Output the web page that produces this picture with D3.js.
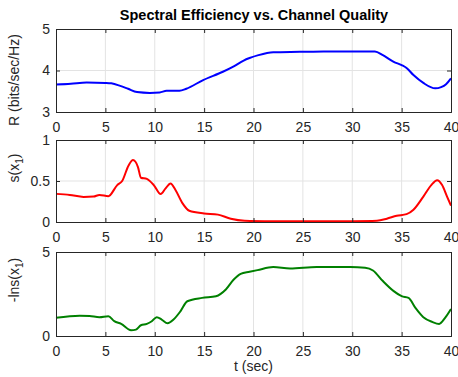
<!DOCTYPE html>
<html>
<head>
<meta charset="utf-8">
<script src="https://cdn.jsdelivr.net/npm/d3@7"></script>
<style>
  html, body { margin: 0; padding: 0; background: #fff; }
  svg { display: block; font-family: "Liberation Sans", Arial, Helvetica, sans-serif; }
</style>
</head>
<body>
<svg id="chart" width="458" height="377"></svg>
<script>
// ---- data ----
const title = "Spectral Efficiency vs. Channel Quality";
const xLabel = "t (sec)";
const xTicks = [0, 5, 10, 15, 20, 25, 30, 35, 40];

const tR = [0, 1.5, 3.1, 5.0, 5.6, 6.5, 7.3, 8.2, 9.5, 10.5, 11.2, 12.5, 13.2, 14.9, 16.9, 18.0, 19.0, 19.6, 20.5, 22.0, 24.7, 27.1, 30.0, 32.3, 33.1, 34.2, 35.0, 35.5, 36.2, 37.2, 38.4, 39.0, 39.5, 40];
const R  = [3.66, 3.68, 3.71, 3.70, 3.69, 3.63, 3.56, 3.48, 3.46, 3.47, 3.51, 3.51, 3.56, 3.77, 3.97, 4.10, 4.24, 4.30, 4.37, 4.44, 4.45, 4.46, 4.46, 4.46, 4.37, 4.21, 4.13, 4.06, 3.89, 3.70, 3.57, 3.60, 3.67, 3.81];

const tS = [0, 1.4, 2.8, 3.8, 4.4, 5.3, 6.2, 6.7, 7.35, 7.8, 8.3, 8.6, 9.2, 9.9, 10.6, 11.1, 11.6, 12.1, 12.8, 13.5, 15.0, 16.4, 17.7, 19.1, 22.0, 26.0, 30.0, 32.5, 33.5, 34.5, 35.5, 36.2, 37.2, 38.0, 38.6, 39.1, 39.6, 40];
const S  = [0.343, 0.33, 0.306, 0.31, 0.33, 0.315, 0.45, 0.50, 0.69, 0.755, 0.67, 0.54, 0.525, 0.45, 0.34, 0.41, 0.47, 0.39, 0.23, 0.137, 0.105, 0.09, 0.04, 0.016, 0.01, 0.008, 0.01, 0.015, 0.04, 0.076, 0.096, 0.15, 0.31, 0.45, 0.51, 0.45, 0.31, 0.20];

const tL = [0, 2.4, 3.4, 4.4, 5.3, 5.9, 6.6, 7.6, 8.1, 8.6, 9.2, 9.7, 10.2, 10.7, 11.3, 11.9, 12.6, 13.3, 14.8, 16.2, 17.2, 18.0, 18.7, 19.6, 20.4, 22.0, 23.7, 26.4, 29.8, 31.3, 32.1, 33.1, 34.2, 35.0, 35.7, 36.4, 37.2, 38.1, 38.8, 39.4, 40];
const L  = [1.09, 1.21, 1.19, 1.12, 1.18, 0.88, 0.72, 0.34, 0.38, 0.64, 0.72, 0.88, 1.12, 0.98, 0.76, 0.98, 1.47, 2.07, 2.27, 2.37, 2.77, 3.36, 3.70, 3.82, 3.92, 4.10, 4.02, 4.10, 4.10, 4.06, 3.90, 3.27, 2.67, 2.37, 2.27, 1.67, 1.12, 0.84, 0.72, 1.08, 1.61];

const panels = [
  { t: tR, v: R, domain: [3, 5], yTicks: [3, 4, 5], color: "#0000ff", top: 29, bottom: 112, label: ["R (bits/sec/Hz)"], labelY: 80 },
  { t: tS, v: S, domain: [0, 1], yTicks: [0, 0.5, 1], color: "#ff0000", top: 140, bottom: 222, label: ["s(x", "1", ")"], labelY: 168 },
  { t: tL, v: L, domain: [0, 5], yTicks: [0, 5], color: "#008000", top: 252, bottom: 336, label: ["-lns(x", "1", ")"], labelY: 280 }
];

// ---- drawing ----
const svg = d3.select("#chart");
const left = 56, right = 451;
const axisColor = "#262626", gridColor = "#e3e3e3";
const x = d3.scaleLinear().domain([0, 40]).range([left, right]);

svg.append("text")
  .attr("x", (left + right) / 2 + 0.5).attr("y", 19.5)
  .attr("text-anchor", "middle")
  .attr("font-weight", "bold").attr("font-size", 14.5)
  .attr("fill", "#000")
  .text(title);

panels.forEach(p => {
  const y = d3.scaleLinear().domain(p.domain).range([p.bottom, p.top]);
  const g = svg.append("g");

  // grid
  g.selectAll(".vg").data(xTicks.slice(1, -1)).enter().append("line")
    .attr("x1", d => x(d)).attr("x2", d => x(d))
    .attr("y1", p.top).attr("y2", p.bottom)
    .attr("stroke", gridColor).attr("stroke-width", 1);
  g.selectAll(".hg").data(p.yTicks.slice(1, -1)).enter().append("line")
    .attr("x1", left).attr("x2", right)
    .attr("y1", d => y(d)).attr("y2", d => y(d))
    .attr("stroke", gridColor).attr("stroke-width", 1);

  // line
  const line = d3.line().x((d, i) => x(p.t[i])).y(d => y(d)).curve(d3.curveMonotoneX);
  g.append("path").datum(p.v)
    .attr("d", line)
    .attr("fill", "none")
    .attr("stroke", p.color)
    .attr("stroke-width", 2)
    .attr("stroke-linejoin", "round");

  // axes (MATLAB style, inward ticks, box)
  const axB = d3.axisBottom(x).tickValues(xTicks).tickSize(-4).tickPadding(10).tickFormat(d3.format("d"));
  const axT = d3.axisTop(x).tickValues(xTicks).tickSize(-4).tickFormat("");
  const axL = d3.axisLeft(y).tickValues(p.yTicks).tickSize(-4).tickPadding(6).tickFormat(d3.format("~g"));
  const axR = d3.axisRight(y).tickValues(p.yTicks).tickSize(-4).tickFormat("");

  const gb = g.append("g").attr("transform", `translate(0,${p.bottom})`).call(axB);
  const gt = g.append("g").attr("transform", `translate(0,${p.top})`).call(axT);
  const gl = g.append("g").attr("transform", `translate(${left},0)`).call(axL);
  const gr = g.append("g").attr("transform", `translate(${right},0)`).call(axR);
  [gb, gt, gl, gr].forEach(a => {
    a.select(".domain").attr("stroke", axisColor).attr("stroke-width", 1);
    a.selectAll(".tick line").attr("stroke", axisColor).attr("stroke-width", 1);
    a.selectAll("text").attr("fill", axisColor).attr("font-size", 14)
      .attr("font-family", "'Liberation Sans', Arial, Helvetica, sans-serif");
  });
  gb.selectAll("text").attr("dy", "0.71em");

  // y label
  const yl = svg.append("text")
    .attr("transform", `translate(18.5,${p.labelY}) rotate(-90)`)
    .attr("text-anchor", "middle")
    .attr("font-size", 14).attr("fill", axisColor);
  yl.append("tspan").text(p.label[0]);
  if (p.label.length > 1) {
    yl.append("tspan").attr("dy", 4).attr("font-size", 10).text(p.label[1]);
    yl.append("tspan").attr("dy", -4).text(p.label[2]);
  }
});

svg.append("text")
  .attr("x", (left + right) / 2).attr("y", 371)
  .attr("text-anchor", "middle")
  .attr("font-size", 14).attr("fill", axisColor)
  .text(xLabel);
</script>
</body>
</html>
